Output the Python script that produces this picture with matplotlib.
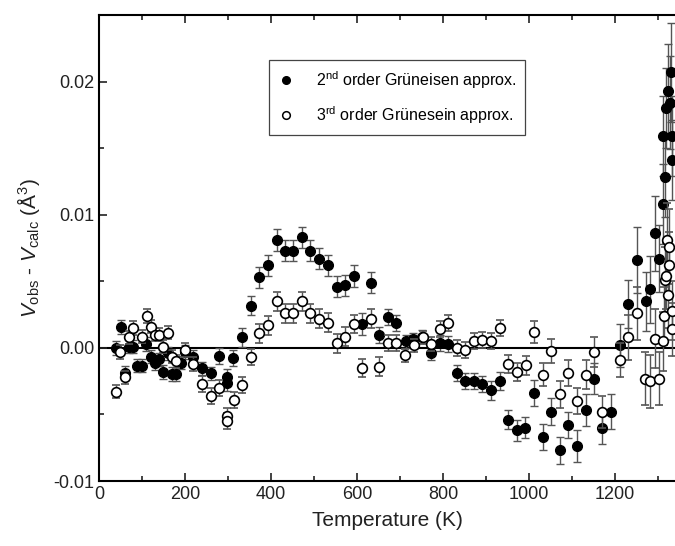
import matplotlib.pyplot as plt
from matplotlib.lines import Line2D
from matplotlib.ticker import MultipleLocator

plt.rcParams['font.family'] = ['Liberation Sans', 'DejaVu Sans']
plt.rcParams['mathtext.fontset'] = 'custom'
plt.rcParams['mathtext.rm'] = 'Liberation Sans'
plt.rcParams['mathtext.it'] = 'Liberation Sans:italic'

# 2nd order fit residuals: temperature (K), dV (A^3), error
t2 = [40, 50, 60, 70, 80, 89, 99, 109, 120, 130, 140, 150, 160, 169, 179, 190, 200,
      219, 240, 260, 280, 297, 297, 312, 333, 353, 373, 393, 413, 433, 452, 472, 491,
      512, 533, 553, 572, 593, 612, 632, 652, 673, 692, 714, 731, 752, 772, 793, 812,
      832, 851, 872, 892, 912, 933, 952, 973, 992, 1012, 1032, 1052, 1072, 1091, 1112,
      1132, 1152, 1171, 1192, 1212, 1230, 1252, 1272, 1281, 1293, 1302, 1312, 1312,
      1316, 1320, 1324, 1328, 1330, 1332, 1332]
v2 = [0.0000, 0.00156, -0.00185, 0.0001, 0.0001, -0.00133, -0.00133, 0.0003, -0.00065,
      -0.00115, -0.00085, -0.0018, -0.0004, -0.00195, -0.00195, -0.0011, -0.0003,
      -0.00065, -0.00153, -0.0019, -0.0006, -0.00215, -0.00266, -0.00073, 0.0008,
      0.00316, 0.0053, 0.0062, 0.0081, 0.0073, 0.0073, 0.0083, 0.0073, 0.0067, 0.0062,
      0.0046, 0.0047, 0.0054, 0.0018, 0.0049, 0.0010, 0.0023, 0.0019, 0.0005, 0.00065,
      0.00085, -0.0004, 0.00035, 0.0003, -0.0019, -0.0025, -0.00246, -0.0027, -0.0032,
      -0.0025, -0.0054, -0.0062, -0.0060, -0.0034, -0.0067, -0.0048, -0.0077, -0.0058,
      -0.0074, -0.0047, -0.0023, -0.0060, -0.0048, 0.0002, 0.0033, 0.0066, 0.0035,
      0.0044, 0.0086, 0.0067, 0.0108, 0.0159, 0.0128, 0.0180, 0.0193, 0.0184, 0.0207,
      0.0141, 0.0159]
e2 = [0.0005, 0.0005, 0.0005, 0.0005, 0.0005, 0.0005, 0.0005, 0.0005, 0.0005, 0.0005,
      0.0005, 0.0005, 0.0005, 0.0005, 0.0005, 0.0005, 0.0005, 0.0005, 0.0005, 0.0005,
      0.0006, 0.0006, 0.0006, 0.0006, 0.0007, 0.0007, 0.0008, 0.0008, 0.0008, 0.0008,
      0.0008, 0.0008, 0.0008, 0.0008, 0.0008, 0.0008, 0.0008, 0.0008, 0.0008, 0.0008,
      0.0006, 0.0006, 0.0006, 0.0005, 0.0005, 0.0005, 0.0005, 0.0006, 0.0006, 0.0006,
      0.0006, 0.0006, 0.0006, 0.0007, 0.0007, 0.0007, 0.0008, 0.0008, 0.0010, 0.0010,
      0.0010, 0.0010, 0.0010, 0.0012, 0.0012, 0.0012, 0.0012, 0.0013, 0.0016, 0.0018,
      0.0025, 0.0022, 0.0025, 0.0028, 0.0025, 0.0030, 0.0030, 0.0030, 0.0030, 0.0035,
      0.0035, 0.0037, 0.0030, 0.0030]

# 3rd order fit residuals
t3 = [40, 49, 60, 70, 80, 99, 111, 120, 130, 140, 150, 160, 169, 179, 200, 219, 240,
      260, 280, 297, 297, 314, 333, 353, 373, 393, 413, 433, 452, 472, 491, 512, 533,
      553, 572, 593, 612, 633, 652, 673, 692, 712, 733, 753, 773, 793, 812, 832, 851,
      872, 892, 912, 933, 952, 973, 993, 1012, 1032, 1052, 1072, 1091, 1112, 1132, 1152,
      1171, 1212, 1231, 1252, 1271, 1281, 1293, 1302, 1312, 1315, 1316, 1318, 1322,
      1324, 1327, 1327, 1332, 1334]
v3 = [-0.0033, -0.0003, -0.0022, 0.0008, 0.0015, 0.00085, 0.0024, 0.0016, 0.0010,
      0.0010, 0.0001, 0.00115, -0.00065, -0.0010, -0.00015, -0.0012, -0.0027, -0.0036,
      -0.0030, -0.0051, -0.0055, -0.0039, -0.0028, -0.0007, 0.0011, 0.0017, 0.0035,
      0.0026, 0.0026, 0.0035, 0.0026, 0.0022, 0.0019, 0.00035, 0.00085, 0.0018, -0.0015,
      0.0022, -0.0014, 0.00035, 0.0004, -0.00055, 0.0002, 0.0008, 0.0003, 0.0014,
      0.0019, 0.0000, -0.00015, 0.00055, 0.0006, 0.00055, 0.0015, -0.0012, -0.0018,
      -0.0013, 0.0012, -0.0020, -0.0002, -0.0035, -0.0019, -0.0040, -0.0020, -0.0003,
      -0.0048, -0.0009, 0.0008, 0.0026, -0.0023, -0.0025, 0.0007, -0.0023, 0.0005,
      0.0024, 0.0051, 0.0054, 0.0081, 0.0040, 0.0062, 0.0076, 0.0014, 0.0028]
e3 = [0.0005, 0.0005, 0.0005, 0.0005, 0.0005, 0.0005, 0.0005, 0.0005, 0.0005, 0.0005,
      0.0005, 0.0005, 0.0005, 0.0005, 0.0005, 0.0005, 0.0006, 0.0006, 0.0006, 0.0006,
      0.0006, 0.0006, 0.0006, 0.0006, 0.0007, 0.0007, 0.0007, 0.0007, 0.0007, 0.0007,
      0.0007, 0.0007, 0.0007, 0.0007, 0.0007, 0.0007, 0.0007, 0.0007, 0.0007, 0.0006,
      0.0006, 0.0005, 0.0005, 0.0005, 0.0005, 0.0006, 0.0006, 0.0006, 0.0006, 0.0006,
      0.0006, 0.0006, 0.0006, 0.0007, 0.0007, 0.0007, 0.0008, 0.0009, 0.0009, 0.0010,
      0.0010, 0.0010, 0.0011, 0.0011, 0.0012, 0.0013, 0.0017, 0.0020, 0.0020, 0.0020,
      0.0022, 0.0020, 0.0022, 0.0022, 0.0025, 0.0025, 0.0028, 0.0025, 0.0025, 0.0028,
      0.0020, 0.0022]

labels = [r'2$^{\rm nd}$ order Grüneisen approx.', r'3$^{\rm rd}$ order Grünesein approx.']

fig = plt.figure(figsize=(6.75, 5.46), dpi=100)
ax = fig.add_axes([0.1467, 0.119, 0.8533, 0.8535])

ax.axhline(0, color='black', lw=1.5, zorder=1)

ax.errorbar(t2, v2, yerr=e2, fmt='o', ms=7, mfc='black', mec='black',
            ecolor='#555555', elinewidth=1.0, capsize=3, capthick=1.0, zorder=3)
ax.errorbar(t3, v3, yerr=e3, fmt='o', ms=7, mfc='white', mec='black', mew=1.2,
            ecolor='#555555', elinewidth=1.0, capsize=3, capthick=1.0, zorder=4)

ax.set_xlim(0, 1340)
ax.set_ylim(-0.01, 0.025)
ax.xaxis.set_major_locator(MultipleLocator(200))
ax.xaxis.set_minor_locator(MultipleLocator(100))
ax.yaxis.set_major_locator(MultipleLocator(0.01))
ax.yaxis.set_minor_locator(MultipleLocator(0.005))
ax.yaxis.set_major_formatter(plt.FormatStrFormatter('%.2f'))
ax.tick_params(which='both', direction='in', top=True, right=False,
               labelsize=13, width=1.2, colors='#222222')
ax.tick_params(which='major', length=6)
ax.tick_params(which='minor', length=3.5)
for side in ('left', 'bottom', 'top'):
    ax.spines[side].set_linewidth(1.5)
ax.spines['right'].set_visible(False)

ax.set_xlabel('Temperature (K)', fontsize=15, color='#222222', labelpad=6)
ax.set_ylabel(r'$V_{\rm obs}$ - $V_{\rm calc}$ (Å$^3$)', fontsize=15,
              color='#222222', labelpad=8)

# legend shows the markers only, no error bars
handles = [Line2D([], [], ls='none', marker='o', ms=5.5, mfc='black', mec='black'),
           Line2D([], [], ls='none', marker='o', ms=5.5, mfc='white', mec='black', mew=1.1)]
leg = ax.legend(handles, labels, loc='upper left', bbox_to_anchor=(0.295, 0.903),
                borderaxespad=0, fontsize=11.5, fancybox=False, edgecolor='#444444',
                framealpha=1, handlelength=1.0, handletextpad=1.4, borderpad=0.55,
                labelspacing=0.85)
leg.get_frame().set_linewidth(0.9)

fig.savefig('out.png', dpi=100)
